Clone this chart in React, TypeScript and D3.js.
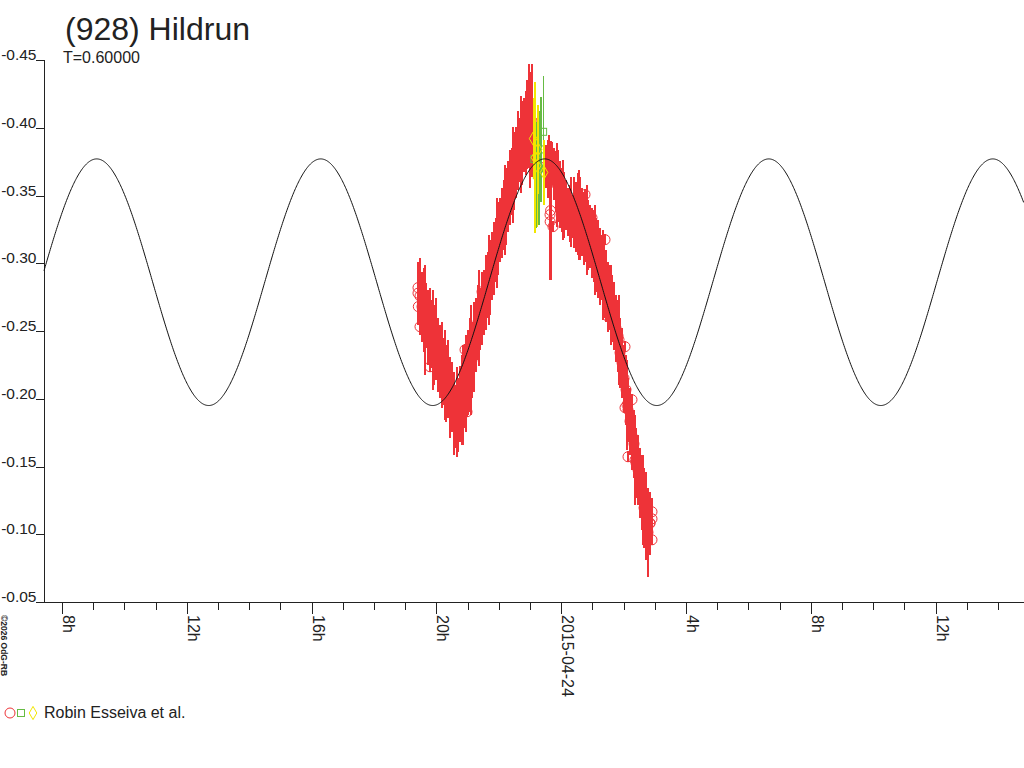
import { useEffect, useRef } from 'react';
import * as d3 from 'd3';

const TITLE = '(928) Hildrun';
const SUBTITLE = 'T=0.60000';
const OBSERVER = 'Robin Esseiva et al.';
const CREDIT = '©2026 OdG-RB';

// times are hours since 2015-04-23 00:00 UT
const DAY0 = Date.UTC(2015, 3, 23);
const T_START = 7.423;
const T_END = 38.833;

const MAG_TICKS = [-0.45, -0.4, -0.35, -0.3, -0.25, -0.2, -0.15, -0.1, -0.05];

// fitted model curve
const MODEL_MEAN = -0.286;
const MODEL_AMP = 0.091;
const MODEL_PERIOD = 7.18; // h
const MODEL_EPOCH = 9.112; // h, time of a maximum

// [hours, mag, err]
const redObs: [number, number, number][] = [
  [19.410, -0.2779, 0.0233], [19.474, -0.2757, 0.0284], [19.538, -0.2680, 0.0259],
  [19.603, -0.2657, 0.0310], [19.667, -0.2617, 0.0240], [19.731, -0.2528, 0.0277],
  [19.795, -0.2510, 0.0310], [19.859, -0.2480, 0.0251], [19.923, -0.2399, 0.0295],
  [19.987, -0.2443, 0.0303], [20.051, -0.2325, 0.0273], [20.115, -0.2277, 0.0270],
  [20.179, -0.2251, 0.0318], [20.244, -0.2203, 0.0247], [20.308, -0.2115, 0.0284],
  [20.372, -0.2148, 0.0288], [20.436, -0.2011, 0.0299], [20.500, -0.2015, 0.0259],
  [20.564, -0.1893, 0.0307], [20.628, -0.1871, 0.0233], [20.692, -0.1882, 0.0273],
  [20.756, -0.1963, 0.0281], [20.821, -0.1993, 0.0332], [20.885, -0.2074, 0.0288],
  [20.949, -0.2115, 0.0358], [21.013, -0.2196, 0.0314], [21.077, -0.2251, 0.0347],
  [21.141, -0.2288, 0.0281], [21.205, -0.2384, 0.0332], [21.269, -0.2473, 0.0273],
  [21.333, -0.2565, 0.0277], [21.397, -0.2591, 0.0229], [21.462, -0.2668, 0.0270],
  [21.526, -0.2713, 0.0240], [21.590, -0.2787, 0.0277], [21.654, -0.2842, 0.0244],
  [21.718, -0.2897, 0.0277], [21.782, -0.2982, 0.0251], [21.846, -0.3038, 0.0270],
  [21.910, -0.3100, 0.0236], [21.974, -0.3185, 0.0270], [22.038, -0.3248, 0.0236],
  [22.103, -0.3300, 0.0259], [22.167, -0.3359, 0.0259], [22.231, -0.3422, 0.0284],
  [22.295, -0.3492, 0.0259], [22.359, -0.3562, 0.0277], [22.423, -0.3606, 0.0247],
  [22.487, -0.3684, 0.0288], [22.551, -0.3743, 0.0259], [22.615, -0.3832, 0.0288],
  [22.679, -0.3839, 0.0236], [22.744, -0.3887, 0.0307], [22.808, -0.3950, 0.0273],
  [22.872, -0.3961, 0.0307], [22.936, -0.4013, 0.0307], [23.000, -0.3987, 0.0428],
  [23.064, -0.4050, 0.0417],
  [23.513, -0.3717, 0.0159], [23.577, -0.3699, 0.0214], [23.641, -0.3684, 0.0155],
  [23.705, -0.3739, 0.0159], [23.769, -0.3662, 0.0192], [23.833, -0.3603, 0.0222],
  [23.897, -0.3573, 0.0266], [23.962, -0.3507, 0.0244], [24.026, -0.3470, 0.0236],
  [24.090, -0.3433, 0.0244], [24.154, -0.3433, 0.0185], [24.218, -0.3381, 0.0177],
  [24.282, -0.3370, 0.0210], [24.346, -0.3348, 0.0159], [24.410, -0.3374, 0.0259],
  [24.474, -0.3344, 0.0259], [24.538, -0.3366, 0.0303], [24.603, -0.3330, 0.0303],
  [24.667, -0.3307, 0.0251], [24.731, -0.3259, 0.0270], [24.795, -0.3259, 0.0247],
  [24.859, -0.3211, 0.0259], [24.923, -0.3200, 0.0233], [24.987, -0.3152, 0.0259],
  [25.051, -0.3130, 0.0266], [25.115, -0.3064, 0.0273], [25.179, -0.3034, 0.0288],
  [25.244, -0.2979, 0.0284], [25.308, -0.2971, 0.0240], [25.372, -0.2868, 0.0270],
  [25.436, -0.2835, 0.0266], [25.500, -0.2753, 0.0259], [25.564, -0.2750, 0.0240],
  [25.628, -0.2668, 0.0247], [25.692, -0.2613, 0.0251], [25.756, -0.2521, 0.0247],
  [25.821, -0.2465, 0.0266], [25.885, -0.2340, 0.0259], [25.949, -0.2266, 0.0259],
  [26.013, -0.2151, 0.0247], [26.077, -0.2067, 0.0259], [26.141, -0.1919, 0.0236],
  [26.205, -0.1834, 0.0247], [26.269, -0.1727, 0.0251], [26.333, -0.1668, 0.0251],
  [26.397, -0.1527, 0.0259], [26.462, -0.1476, 0.0259], [26.526, -0.1380, 0.0259],
  [26.590, -0.1309, 0.0277], [26.654, -0.1195, 0.0295], [26.718, -0.1136, 0.0325],
  [26.782, -0.1014, 0.0329], [26.846, -0.1080, 0.0233], [26.910, -0.1114, 0.0155],
  // long-bar points
  [19.635, -0.2583, 0.0406], [19.891, -0.2436, 0.0369], [20.276, -0.2177, 0.0332],
  [20.660, -0.1904, 0.0332], [20.853, -0.2030, 0.0369], [21.109, -0.2288, 0.0406],
  [21.365, -0.2598, 0.0355], [21.686, -0.2879, 0.0332], [21.942, -0.3152, 0.0332],
  [22.199, -0.3396, 0.0332], [22.455, -0.3654, 0.0355], [22.712, -0.3876, 0.0355],
  [22.904, -0.4024, 0.0332], [22.968, -0.4098, 0.0369], [23.609, -0.3728, 0.0222],
  [23.865, -0.3581, 0.0310], [24.058, -0.3470, 0.0295], [24.314, -0.3381, 0.0259],
  [24.571, -0.3359, 0.0332], [24.827, -0.3248, 0.0332], [25.083, -0.3100, 0.0332],
  [25.340, -0.2916, 0.0332], [25.596, -0.2694, 0.0295], [25.853, -0.2436, 0.0332],
  [26.109, -0.1956, 0.0332], [26.365, -0.1549, 0.0332], [26.622, -0.1254, 0.0332],
  [23.660, -0.3389, 0.0510],
  // small-error points
  [19.410, -0.2820, 0.004], [19.420, -0.2680, 0.004], [19.474, -0.2532, 0.004],
  [19.795, -0.2236, 0.004], [20.917, -0.2362, 0.004], [21.013, -0.2310, 0.004],
  [20.981, -0.1904, 0.004], [20.821, -0.1919, 0.004], [21.462, -0.2790, 0.004],
  [21.558, -0.2709, 0.004], [23.641, -0.3359, 0.004], [23.645, -0.3307, 0.004],
  [23.737, -0.3270, 0.004], [24.763, -0.3507, 0.004], [24.987, -0.3337, 0.004],
  [25.404, -0.3174, 0.004], [25.308, -0.2805, 0.004], [25.500, -0.2606, 0.004],
  [26.045, -0.2384, 0.004], [26.269, -0.1993, 0.004], [26.045, -0.1934, 0.004],
  [26.141, -0.1572, 0.004], [26.910, -0.1166, 0.004], [26.846, -0.1084, 0.004],
  [26.910, -0.0959, 0.004],
];

const greenObs: [number, number, number][] = [
  [23.14, -0.377, 0.031], [23.22, -0.365, 0.039], [23.29, -0.370, 0.042],
  [23.35, -0.384, 0.039], [23.42, -0.397, 0.041],
];

const yellowObs: [number, number, number][] = [
  [23.10, -0.392, 0.030], [23.16, -0.378, 0.056], [23.23, -0.372, 0.045],
  [23.26, -0.384, 0.033], [23.45, -0.367, 0.024],
];

const RED = '#ee3338';
const GREEN = '#66bb44';
const YELLOW = '#f2e600';
const INK = '#222';
const FONT = '"Liberation Sans", Arial, sans-serif';

const toDate = (h: number) => new Date(DAY0 + h * 3600e3);

export default function App() {
  const svgRef = useRef<SVGSVGElement>(null);

  useEffect(() => {
    if (!svgRef.current) return;
    const svg = d3.select(svgRef.current);
    svg.selectAll('*').remove();

    const x = d3.scaleUtc().domain([toDate(T_START), toDate(T_END)]).range([44, 1024]);
    const y = d3.scaleLinear().domain([-0.45, -0.05]).range([60, 602]);

    svg.append('rect').attr('width', 1024).attr('height', 768).attr('fill', '#fff');

    // title block
    svg.append('text').attr('x', 65).attr('y', 39.5).attr('font-size', 32)
      .attr('font-family', FONT).attr('fill', INK).text(TITLE);
    svg.append('text').attr('x', 63).attr('y', 63).attr('font-size', 16)
      .attr('font-family', FONT).attr('fill', INK).text(SUBTITLE);

    // y axis
    svg.append('line').attr('x1', 44.5).attr('x2', 44.5).attr('y1', 60).attr('y2', 602)
      .attr('stroke', INK);
    svg.selectAll('.ytick').data(MAG_TICKS).join('line')
      .attr('x1', 36).attr('x2', 44.5)
      .attr('y1', d => Math.round(y(d)) + 0.5).attr('y2', d => Math.round(y(d)) + 0.5)
      .attr('stroke', INK);
    svg.selectAll('.ylab').data(MAG_TICKS).join('text')
      .attr('x', 36.5).attr('y', d => y(d)).attr('text-anchor', 'end')
      .attr('font-size', 15.5).attr('font-family', FONT).attr('fill', INK)
      .text(d => d.toFixed(2));

    // x axis
    svg.append('line').attr('x1', 36).attr('x2', 1024).attr('y1', 602.5).attr('y2', 602.5)
      .attr('stroke', INK);
    const hours = x.ticks(d3.utcHour.every(1)!);
    const isMajor = (d: Date) => d.getUTCHours() % 4 === 0;
    svg.selectAll('.xtick').data(hours).join('line')
      .attr('x1', d => Math.round(x(d)) + 0.5).attr('x2', d => Math.round(x(d)) + 0.5)
      .attr('y1', 602).attr('y2', d => (isMajor(d) ? 614 : 610))
      .attr('stroke', INK);
    const fmtDay = d3.utcFormat('%Y-%m-%d');
    svg.selectAll('.xlab').data(hours.filter(isMajor)).join('text')
      .attr('transform', d => `translate(${Math.round(x(d)) + 1},615) rotate(90)`)
      .attr('font-size', 16).attr('font-family', FONT).attr('fill', INK)
      .text(d => (d.getUTCHours() === 0 ? fmtDay(d) : `${d.getUTCHours()}h`));

    // credit
    svg.append('text').attr('transform', 'translate(1,615) rotate(90)')
      .attr('font-size', 8.5).attr('font-weight', 'bold').attr('font-family', FONT)
      .attr('fill', INK).text(CREDIT);

    const plot = svg.append('g');
    const bars = (data: [number, number, number][], color: string, w: number) =>
      plot.append('g').selectAll('line').data(data).join('line')
        .attr('x1', d => x(toDate(d[0]))).attr('x2', d => x(toDate(d[0])))
        .attr('y1', d => y(d[1] - d[2])).attr('y2', d => y(d[1] + d[2]))
        .attr('stroke', color).attr('stroke-width', w)
        .attr('shape-rendering', 'crispEdges');

    // red session
    plot.append('g').selectAll('circle').data(redObs).join('circle')
      .attr('cx', d => x(toDate(d[0]))).attr('cy', d => y(d[1])).attr('r', 5)
      .attr('fill', 'none').attr('stroke', RED);
    bars(redObs, RED, 2.4);

    // green session
    bars(greenObs, GREEN, 1.2);
    plot.append('g').selectAll('rect').data(greenObs).join('rect')
      .attr('x', d => x(toDate(d[0])) - 3.5).attr('y', d => y(d[1]) - 3.5)
      .attr('width', 7).attr('height', 7).attr('fill', 'none').attr('stroke', GREEN);

    // yellow session
    const diamond = d3.symbol(d3.symbolDiamond, 50);
    bars(yellowObs, YELLOW, 1.2);
    plot.append('g').selectAll('path').data(yellowObs).join('path')
      .attr('transform', d => `translate(${x(toDate(d[0]))},${y(d[1])})`)
      .attr('d', diamond()).attr('fill', 'none').attr('stroke', YELLOW);

    // model curve
    const curveT = d3.range(T_START, T_END + 0.01, 0.02);
    const line = d3.line<number>()
      .x(t => x(toDate(t)))
      .y(t => y(MODEL_MEAN - MODEL_AMP * Math.cos((2 * Math.PI * (t - MODEL_EPOCH)) / MODEL_PERIOD)));
    plot.append('path').attr('d', line(curveT)).attr('fill', 'none')
      .attr('stroke', '#111').attr('stroke-width', 1);

    // legend
    const lg = svg.append('g');
    lg.append('circle').attr('cx', 10).attr('cy', 713).attr('r', 5)
      .attr('fill', 'none').attr('stroke', RED);
    lg.append('rect').attr('x', 17.5).attr('y', 709.5).attr('width', 7).attr('height', 7)
      .attr('fill', 'none').attr('stroke', GREEN);
    lg.append('path').attr('transform', 'translate(33,713)').attr('d', diamond())
      .attr('fill', 'none').attr('stroke', YELLOW);
    lg.append('text').attr('x', 44).attr('y', 718).attr('font-size', 16)
      .attr('font-family', FONT).attr('fill', INK).text(OBSERVER);
  }, []);

  return (
    <div style={{ position: 'absolute', left: 0, top: 0 }}>
      <svg ref={svgRef} width={1024} height={768} />
    </div>
  );
}
